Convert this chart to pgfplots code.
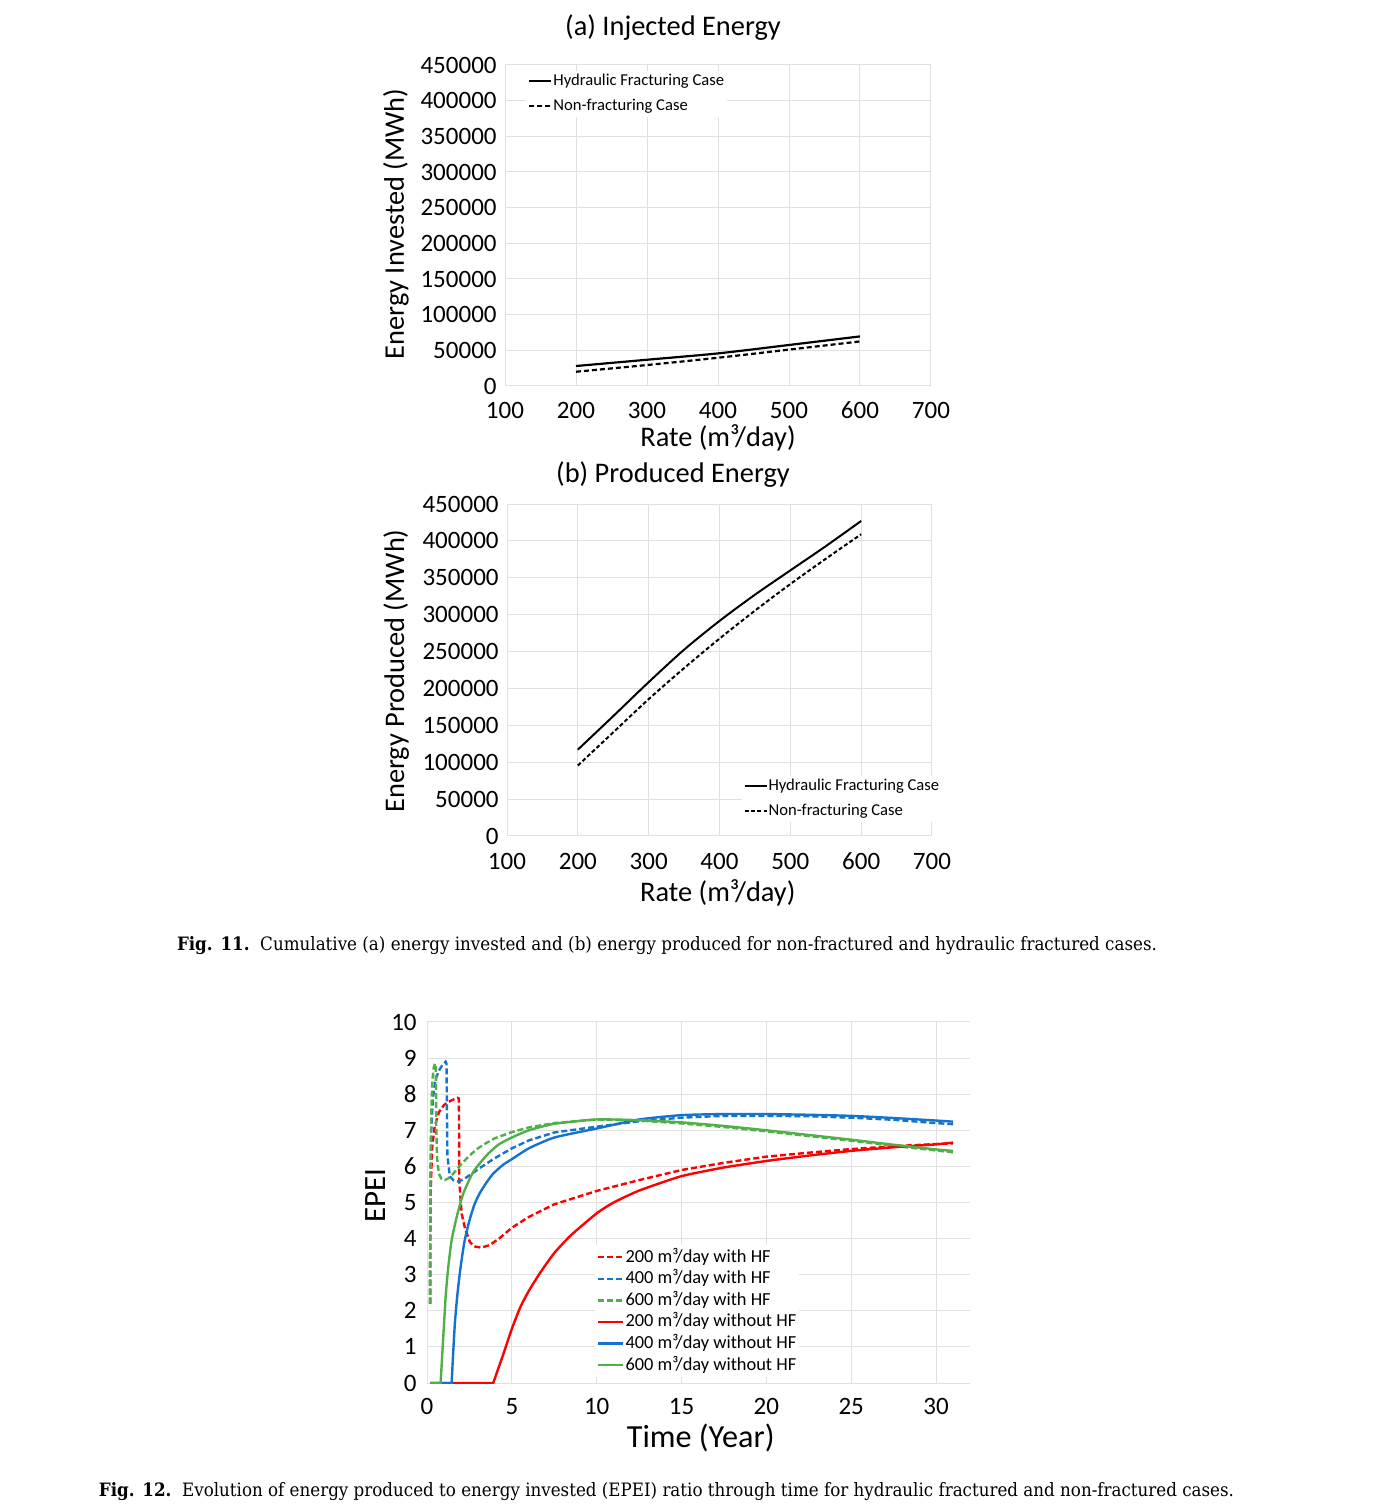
\documentclass[border=0pt]{standalone}
\usepackage{fontspec}
\setmainfont{Carlito}
\newfontfamily\capfont{DejaVu Serif}
\usepackage{graphicx}
\usepackage{pgfplots}
\pgfplotsset{compat=1.18}

\definecolor{gridc}{RGB}{224,224,224}
\definecolor{cred}{RGB}{255,0,0}
\definecolor{cblue}{RGB}{20,115,205}
\definecolor{cgreen}{RGB}{80,175,70}

\pgfplotsset{
  exstyle/.style={
    scale only axis, anchor=south west,
    axis line style={draw=none},
    major tick length=0pt,
    grid=major,
    major grid style={gridc, line width=0.5pt},
    /pgf/number format/fixed,
    /pgf/number format/precision=0,
    /pgf/number format/assume math mode=true,
    /pgf/number format/1000 sep={},
    scaled ticks=false,
    tick label style={font=\fontsize{12.5}{13}\selectfont},
    label style={font=\fontsize{14.2}{15}\selectfont},
    yticklabel style={anchor=east, inner sep=0pt, xshift=-4pt},
    legend cell align=left,
  },
}

\begin{document}
\begin{tikzpicture}
\useasboundingbox (0,0) rectangle (687pt,756pt);

% ---------------- (a) Injected Energy ----------------
\begin{axis}[exstyle, at={(252.5pt,563pt)}, width=213pt, height=160.5pt,
  xmin=100, xmax=700, ymin=0, ymax=450000,
  xtick={100,200,...,700}, ytick={0,50000,...,450000},
  xticklabel style={anchor=base, inner sep=0pt, yshift=-16.5pt},
  xlabel={Rate (m³/day)}, ylabel={Energy Invested (MWh)},
  xlabel style={at={(axis description cs:0.5,-0.162)}, anchor=center},
  ylabel style={at={(axis description cs:-0.256,0.505)}, anchor=center},
  legend style={at={(axis description cs:0.049,0.984)}, anchor=north west,
    draw=none, fill=white, font=\fontsize{8.3}{9}\selectfont, inner sep=1pt,
    row sep=3.7pt, nodes={inner sep=0.5pt, text height=6pt, text depth=1.8pt}},
  legend image code/.code={\draw[#1] (0pt,0pt) -- (11pt,0pt);},
]
\addplot[black, line width=1.1pt, smooth] coordinates {(200,28000) (300,36800) (400,45700) (500,57500) (600,69500)};
\addlegendentry{Hydraulic Fracturing Case}
\addplot[black, line width=1.1pt, dash pattern=on 2.5pt off 1.5pt, smooth] coordinates {(200,20000) (300,29400) (400,39600) (500,51000) (600,62500)};
\addlegendentry{Non-fracturing Case}
\end{axis}

% ---------------- (b) Produced Energy ----------------
\begin{axis}[exstyle, at={(253.5pt,338pt)}, width=212.5pt, height=166pt,
  xmin=100, xmax=700, ymin=0, ymax=450000,
  xtick={100,200,...,700}, ytick={0,50000,...,450000},
  xticklabel style={anchor=base, inner sep=0pt, yshift=-17pt},
  xlabel={Rate (m³/day)}, ylabel={Energy Produced (MWh)},
  xlabel style={at={(axis description cs:0.496,-0.172)}, anchor=center},
  ylabel style={at={(axis description cs:-0.261,0.497)}, anchor=center},
  legend style={at={(axis description cs:0.551,0.183)}, anchor=north west,
    draw=none, fill=white, font=\fontsize{8.3}{9}\selectfont, inner sep=1pt,
    row sep=3.7pt, nodes={inner sep=0.5pt, text height=6pt, text depth=1.8pt}},
  legend image code/.code={\draw[#1] (0pt,0pt) -- (11pt,0pt);},
]
\addplot[black, line width=1pt, smooth, tension=0.5] coordinates {(200,117000) (250,162500) (300,208500) (350,252500) (400,291500) (450,327000) (500,360000) (550,392800) (600,427000)};
\addlegendentry{Hydraulic Fracturing Case}
\addplot[black, line width=1pt, dash pattern=on 2pt off 1.2pt, smooth, tension=0.5] coordinates {(200,95500) (250,140500) (300,185500) (350,227500) (400,267500) (450,305400) (500,341500) (550,375700) (600,409000)};
\addlegendentry{Non-fracturing Case}
\end{axis}

% ---------------- EPEI ----------------
\begin{axis}[exstyle, at={(213.5pt,64.5pt)}, width=271.5pt, height=180.5pt,
  xmin=0, xmax=32, ymin=0, ymax=10,
  xtick={0,5,...,30}, ytick={0,1,...,10},
  xticklabel style={anchor=base, inner sep=0pt, yshift=-15.5pt},
  yticklabel style={xshift=-1pt},
  xlabel={Time (Year)}, ylabel={EPEI},
  xlabel style={at={(axis description cs:0.504,-0.152)}, anchor=center, font=\fontsize{16.1}{17}\selectfont},
  ylabel style={at={(axis description cs:-0.094,0.52)}, anchor=center, font=\fontsize{15.5}{16}\selectfont},
  legend style={at={(axis description cs:0.309,0.382)}, anchor=north west,
    draw=none, fill=white, font=\fontsize{9.2}{10}\selectfont, inner sep=1pt,
    row sep=1pt, nodes={inner sep=0.5pt, text height=6.8pt, text depth=2pt}},
  legend image code/.code={\draw[#1] (0pt,0pt) -- (12.5pt,0pt);},
]
\addplot[cred, line width=1.2pt, dash pattern=on 3pt off 1.5pt] coordinates {
(0.18,2.2) (0.2,5.0) (0.3,6.5) (0.45,7.1) (0.7,7.5) (1.0,7.7) (1.4,7.82) (1.8,7.9) (1.88,7.88) (1.9,5.6)
(2.04,4.7) (2.24,4.28) (2.53,3.9) (2.82,3.78) (3.2,3.75) (3.7,3.82) (4.3,4.02) (5,4.3) (6,4.6)
(7.5,4.95) (10,5.32) (12.5,5.62) (15,5.9) (17.5,6.1) (20,6.27) (22.5,6.38) (25,6.48) (27.5,6.56) (30,6.62) (31,6.64)};
\addlegendentry{200 m³/day with HF}
\addplot[cblue, line width=1.2pt, dash pattern=on 3pt off 1.5pt] coordinates {
(0.18,2.2) (0.2,5.5) (0.25,7.0) (0.35,7.9) (0.5,8.4) (0.7,8.65) (0.9,8.8) (1.1,8.9) (1.15,8.85) (1.2,6.3)
(1.35,5.72) (1.55,5.62) (1.84,5.58) (2.14,5.64) (2.53,5.76) (3.1,5.95) (3.9,6.2) (5,6.5) (6,6.72)
(7.5,6.94) (10,7.1) (12.5,7.25) (15,7.35) (17.5,7.4) (20,7.4) (22.5,7.39) (25,7.35) (27.5,7.29) (30,7.2) (31,7.17)};
\addlegendentry{400 m³/day with HF}
\addplot[cgreen, line width=1.2pt, dash pattern=on 3pt off 1.5pt] coordinates {
(0.18,2.2) (0.2,5.5) (0.25,7.5) (0.32,8.4) (0.4,8.75) (0.47,8.85) (0.52,8.8) (0.55,7.0) (0.6,6.2) (0.7,5.8)
(0.85,5.66) (1.05,5.62) (1.3,5.68) (1.55,5.8) (2.0,6.05) (2.5,6.3) (3.0,6.5) (3.5,6.65) (4.0,6.78) (5,6.95)
(6,7.08) (7.5,7.2) (10,7.3) (12.5,7.27) (15,7.19) (17.5,7.09) (20,6.97) (22.5,6.84) (25,6.71) (27.5,6.57) (30,6.44) (31,6.39)};
\addlegendentry{600 m³/day with HF}
\addplot[cred, line width=1.2pt, smooth, tension=0.35] coordinates {
(0.2,0) (3.7,0) (3.8,0) (3.9,0) (4.2,0.4) (4.5,0.8) (5,1.5) (5.5,2.1) (6,2.55) (6.65,3.04) (7.5,3.6) (8.5,4.1) (10,4.7)
(11,5.0) (12.5,5.33) (15,5.73) (17.5,5.97) (20,6.15) (22.5,6.3) (25,6.43) (27.5,6.53) (30,6.61) (31,6.66)};
\addlegendentry{200 m³/day without HF}
\addplot[cblue, line width=1.2pt, smooth, tension=0.35] coordinates {
(0.2,0) (1.3,0) (1.4,0) (1.45,0) (1.55,0.9) (1.65,1.7) (1.78,2.4) (1.95,3.1) (2.2,3.9) (2.5,4.5) (2.8,4.95) (3.1,5.25)
(3.5,5.55) (3.9,5.8) (4.5,6.05) (5,6.2) (6,6.5) (7.5,6.8) (10,7.05) (12.5,7.3) (15,7.42) (17.5,7.45)
(20,7.45) (22.5,7.43) (25,7.4) (27.5,7.34) (30,7.27) (31,7.24)};
\addlegendentry{400 m³/day without HF}
\addplot[cgreen, line width=1.2pt, smooth, tension=0.35] coordinates {
(0.2,0) (0.7,0) (0.75,0) (0.8,0) (0.9,0.8) (1.0,1.6) (1.1,2.4) (1.25,3.2) (1.45,3.95) (1.75,4.6) (2.14,5.25) (2.73,5.85)
(3.5,6.3) (4.2,6.6) (5,6.8) (6,7.0) (7.5,7.18) (10,7.3) (12.5,7.28) (15,7.22) (17.5,7.12) (20,7.0)
(22.5,6.87) (25,6.74) (27.5,6.6) (30,6.47) (31,6.43)};
\addlegendentry{600 m³/day without HF}
\end{axis}

% titles
\node[font=\fontsize{14.2}{15}\selectfont, anchor=center] at (336.5pt,742pt) {(a) Injected Energy};
\node[font=\fontsize{14.2}{15}\selectfont, anchor=center] at (336.5pt,518.5pt) {(b) Produced Energy};

% captions
\node[anchor=base, inner sep=0pt] at (333.5pt,280.5pt) {\resizebox{490pt}{7pt}{\capfont\textbf{Fig. 11.}\ \ Cumulative (a) energy invested and (b) energy produced for non-fractured and hydraulic fractured cases.}};
\node[anchor=base, inner sep=0pt] at (333.25pt,7.5pt) {\resizebox{567.5pt}{7pt}{\capfont\textbf{Fig. 12.}\ \ Evolution of energy produced to energy invested (EPEI) ratio through time for hydraulic fractured and non-fractured cases.}};
\end{tikzpicture}
\end{document}
